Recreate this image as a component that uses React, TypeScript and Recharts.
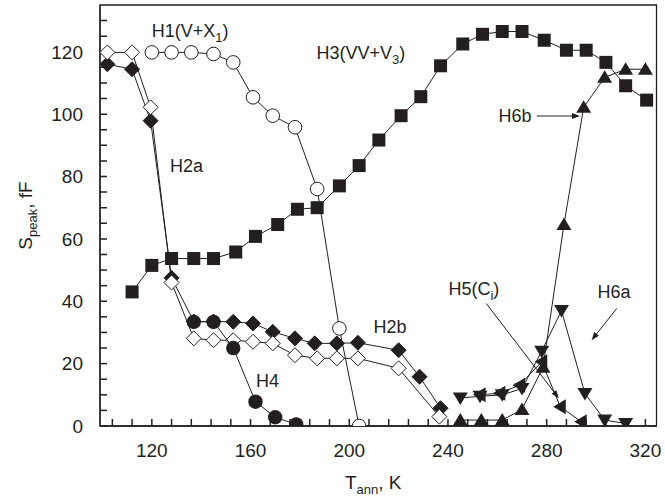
import { ScatterChart, Scatter, XAxis, YAxis, ReferenceArea, ReferenceLine, ReferenceDot } from 'recharts';

const ink = '#231f20';
const font = '"Liberation Sans", Arial, Helvetica, sans-serif';

// Annealing temperature (K) and peak amplitude (fF) per trap
const h1T = [120, 128, 136, 145, 153, 161, 169, 178, 187, 196, 204];
const h1S = [119.8, 119.8, 119.8, 119.3, 116.6, 105.4, 99.5, 95.8, 76, 31.3, 0];

const h2aT = [102, 112, 119.5, 128, 137, 145, 153, 161, 169, 178, 187, 195, 203.5, 220, 236.5];
const h2aS = [119.8, 119.8, 102.2, 46, 28.1, 27.5, 27.5, 27, 26.5, 22.7, 21.7, 21.7, 21.7, 18.5, 3];

const h2bT = [102, 112, 119.5, 128, 137, 145, 153, 161, 169, 178, 186, 195, 203.5, 220, 228.5, 237];
const h2bS = [116, 114.4, 97.9, 47.5, 33.5, 33.5, 33.4, 32.9, 30.2, 28.1, 26.5, 26.5, 26.7, 24.3, 15.8, 5.7];

const h3T = [112, 120, 128, 137, 145, 154, 162, 171, 179, 187, 196, 204, 212, 221, 229, 237, 246, 254, 262, 270, 279, 288, 296, 304, 312, 320.5];
const h3S = [43, 51.5, 53.7, 53.7, 53.7, 55.8, 60.8, 64.6, 69.5, 70, 77, 83.5, 91.7, 99.5, 105.6, 115.5, 122.5, 125.6, 126.5, 126.5, 123.7, 120.5, 120.5, 116.6, 109.1, 104.5];

const h4T = [137, 145, 153, 162, 170, 178.5];
const h4S = [33.4, 33.4, 25, 7.8, 2.8, 0.5];

const h5T = [253, 261, 269, 278, 285.5, 294];
const h5S = [10, 10.5, 13.1, 20.6, 6.2, 1.4];

const h6aT = [245, 253, 262, 270, 278, 286, 295.5, 303.5, 312];
const h6aS = [9, 9.5, 10, 12, 24, 37, 10.4, 1.9, 0.8];

const h6bT = [245, 253.5, 262, 270, 278.5, 287, 295, 303.5, 312, 320];
const h6bS = [1.9, 1.9, 1.9, 5.3, 18.8, 64.6, 102.2, 111.8, 114.4, 114.4];

const xTicks = [104, 112, 120, 128, 136, 144, 152, 160, 168, 176, 184, 192, 200, 208, 216, 224, 232, 240, 248, 256, 264, 272, 280, 288, 296, 304, 312, 320];
const xLabels = [120, 160, 200, 240, 280, 320];
const yTicks = [0, 5, 10, 15, 20, 25, 30, 35, 40, 45, 50, 55, 60, 65, 70, 75, 80, 85, 90, 95, 100, 105, 110, 115, 120, 125, 130];
const yLabels = [0, 20, 40, 60, 80, 100, 120];

const X_MIN = 99;
const X_MAX = 324.5;
const Y_MAX = 135;

const pts = (t: number[], s: number[]) => t.map((T, i) => ({ T, S: s[i] }));

const square = (p: any) => <rect x={p.cx - 6.5} y={p.cy - 6.5} width={13} height={13} fill={ink} />;
const ring = (p: any) => <circle cx={p.cx} cy={p.cy} r={6.8} fill="#fff" stroke={ink} strokeWidth={1} />;
const disc = (p: any) => <circle cx={p.cx} cy={p.cy} r={7.2} fill={ink} />;
const diamond = (fill: string) => (p: any) => (
  <polygon
    points={`${p.cx},${p.cy - 7.5} ${p.cx + 7.5},${p.cy} ${p.cx},${p.cy + 7.5} ${p.cx - 7.5},${p.cy}`}
    fill={fill}
    stroke={ink}
    strokeWidth={1}
  />
);
const triUp = (p: any) => <polygon points={`${p.cx},${p.cy - 7} ${p.cx + 7.5},${p.cy + 5.5} ${p.cx - 7.5},${p.cy + 5.5}`} fill={ink} />;
const triDown = (p: any) => <polygon points={`${p.cx},${p.cy + 7} ${p.cx + 7.5},${p.cy - 5.5} ${p.cx - 7.5},${p.cy - 5.5}`} fill={ink} />;
const triLeft = (p: any) => <polygon points={`${p.cx - 7},${p.cy} ${p.cx + 5.5},${p.cy - 7.5} ${p.cx + 5.5},${p.cy + 7.5}`} fill={ink} />;

// inward tick marks (Origin style), placed through the axis scales
const TICK = 7;
const xMark = (p: any) => <line x1={p.cx} y1={p.cy} x2={p.cx} y2={p.cy - TICK} stroke={ink} strokeWidth={1.5} />;
const yMark = (p: any) => <line x1={p.cx} y1={p.cy} x2={p.cx + TICK} y2={p.cy} stroke={ink} strokeWidth={1.5} />;

const xTick = (p: any) => {
  const v = p.payload.value;
  if (!xLabels.includes(v)) return <g />;
  return (
    <text x={p.x} y={p.y} dy="0.71em" textAnchor="middle" fontFamily={font} fontSize={19} fill={ink}>
      {v}
    </text>
  );
};

const yTick = (p: any) => {
  const v = p.payload.value;
  if (!yLabels.includes(v)) return <g />;
  return (
    <text x={p.x} y={p.y} dy="0.355em" textAnchor="end" fontFamily={font} fontSize={19} fill={ink}>
      {v}
    </text>
  );
};

// label text with optional subscript
const note = (main: string, sub?: string, tail?: string) => (p: any) => (
  <text x={p.cx} y={p.cy} textAnchor="middle" fontFamily={font} fontSize={18} fill={ink}>
    {main}
    {sub && <tspan dy={5} fontSize={13}>{sub}</tspan>}
    {tail && <tspan dy={sub ? -5 : 0}>{tail}</tspan>}
  </text>
);

const arrow = (p: any) => {
  const { x1, y1, x2, y2 } = p;
  const a = Math.atan2(y2 - y1, x2 - x1);
  const L = 8, W = 3;
  const bx = x2 - L * Math.cos(a), by = y2 - L * Math.sin(a);
  const hx = W * Math.sin(a), hy = -W * Math.cos(a);
  return (
    <g>
      <line x1={x1} y1={y1} x2={bx} y2={by} stroke={ink} strokeWidth={1} />
      <polygon points={`${x2},${y2} ${bx + hx},${by + hy} ${bx - hx},${by - hy}`} fill={ink} />
    </g>
  );
};

const lineStyle = { stroke: ink, strokeWidth: 1 };

export default function App() {
  return (
    <div style={{ position: 'absolute', left: 0, top: 0, background: '#fff' }}>
      <ScatterChart width={665} height={499} margin={{ top: 5, right: 8.5, bottom: 0, left: 0 }}>
        <XAxis
          type="number"
          dataKey="T"
          domain={[X_MIN, X_MAX]}
          allowDataOverflow
          ticks={xTicks}
          interval={0}
          height={73}
          tickSize={0}
          tickMargin={18}
          tick={xTick}
          tickLine={false}
          axisLine={{ stroke: ink, strokeWidth: 1.3 }}
          label={{
            content: (props: any) => {
              const vb = props.viewBox;
              return (
                <text x={vb.x + vb.width / 2 - 5} y={489} textAnchor="middle" fontFamily={font} fontSize={19} fill={ink}>
                  T<tspan dy={5} fontSize={13}>ann</tspan><tspan dy={-5}>, K</tspan>
                </text>
              );
            },
          }}
        />
        <YAxis
          type="number"
          dataKey="S"
          domain={[0, Y_MAX]}
          allowDataOverflow
          ticks={yTicks}
          interval={0}
          width={100}
          tickSize={0}
          tickMargin={17}
          tick={yTick}
          tickLine={false}
          axisLine={{ stroke: ink, strokeWidth: 1.3 }}
          label={{
            content: (props: any) => {
              const vb = props.viewBox;
              const cy = vb.y + vb.height / 2;
              return (
                <text x={32} y={cy} transform={`rotate(-90, 32, ${cy})`} textAnchor="middle" fontFamily={font} fontSize={19} fill={ink}>
                  S<tspan dy={5} fontSize={13}>peak</tspan><tspan dy={-5}>, fF</tspan>
                </text>
              );
            },
          }}
        />
        <ReferenceArea x1={X_MIN} x2={X_MAX} y1={0} y2={Y_MAX} fill="none" stroke={ink} strokeWidth={1.3} ifOverflow="visible" />

        <Scatter data={xTicks.map((T) => ({ T, S: 0 }))} shape={xMark} isAnimationActive={false} />
        <Scatter data={yTicks.map((S) => ({ T: X_MIN, S }))} shape={yMark} isAnimationActive={false} />

        <Scatter data={pts(h2bT, h2bS)} shape={diamond(ink)} line={lineStyle} lineType="joint" isAnimationActive={false} />
        <Scatter data={pts(h2aT, h2aS)} shape={diamond('#fff')} line={lineStyle} lineType="joint" isAnimationActive={false} />
        <Scatter data={pts(h4T, h4S)} shape={disc} line={lineStyle} lineType="joint" isAnimationActive={false} />
        <Scatter data={pts(h3T, h3S)} shape={square} line={lineStyle} lineType="joint" isAnimationActive={false} />
        <Scatter data={pts(h1T, h1S)} shape={ring} line={lineStyle} lineType="joint" isAnimationActive={false} />
        <Scatter data={pts(h6aT, h6aS)} shape={triDown} line={lineStyle} lineType="joint" isAnimationActive={false} />
        <Scatter data={pts(h5T, h5S)} shape={triLeft} line={lineStyle} lineType="joint" isAnimationActive={false} />
        <Scatter data={pts(h6bT, h6bS)} shape={triUp} line={lineStyle} lineType="joint" isAnimationActive={false} />

        <ReferenceLine segment={[{ x: 276, y: 99.4 }, { x: 293.5, y: 99.4 }]} shape={arrow} ifOverflow="visible" />
        <ReferenceLine segment={[{ x: 308.4, y: 37.7 }, { x: 298.2, y: 27.5 }]} shape={arrow} ifOverflow="visible" />
        <ReferenceLine segment={[{ x: 255.5, y: 39.3 }, { x: 284.9, y: 8.9 }]} shape={arrow} ifOverflow="visible" />

        <ReferenceDot x={135.5} y={124.8} r={0} shape={note('H1(V+X', '1', ')')} ifOverflow="visible" />
        <ReferenceDot x={204.7} y={117.6} r={0} shape={note('H3(VV+V', '3', ')')} ifOverflow="visible" />
        <ReferenceDot x={134.1} y={81.4} r={0} shape={note('H2a')} ifOverflow="visible" />
        <ReferenceDot x={216.5} y={29.7} r={0} shape={note('H2b')} ifOverflow="visible" />
        <ReferenceDot x={166.9} y={12.6} r={0} shape={note('H4')} ifOverflow="visible" />
        <ReferenceDot x={267.2} y={97.4} r={0} shape={note('H6b')} ifOverflow="visible" />
        <ReferenceDot x={250.5} y={41.9} r={0} shape={note('H5(C', 'i', ')')} ifOverflow="visible" />
        <ReferenceDot x={307.3} y={40.9} r={0} shape={note('H6a')} ifOverflow="visible" />
      </ScatterChart>
    </div>
  );
}
